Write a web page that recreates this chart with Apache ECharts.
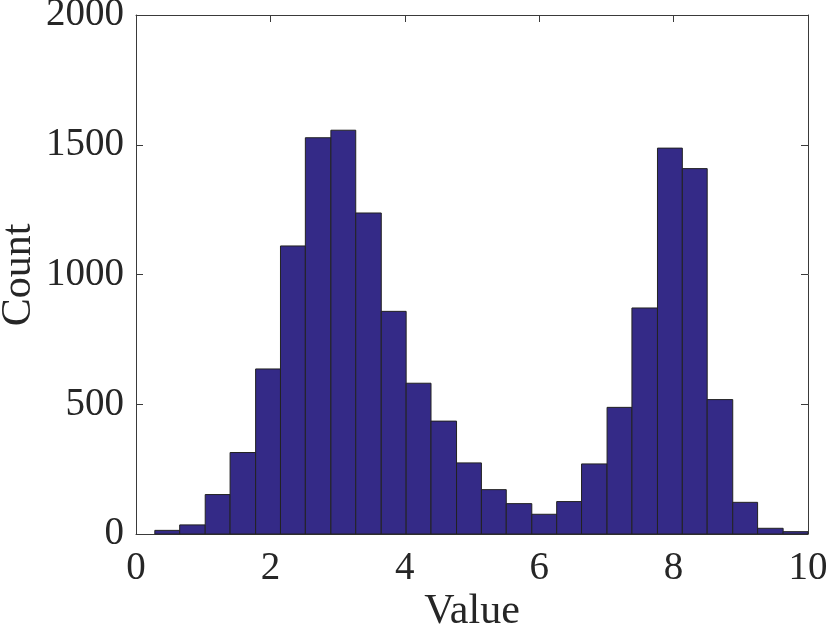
<!DOCTYPE html>
<html>
<head>
<meta charset="utf-8">
<script src="https://cdn.jsdelivr.net/npm/echarts@6/dist/echarts.min.js"></script>
<style>
html,body{margin:0;padding:0;background:#fff;}
#chart{width:830px;height:631px;}
</style>
</head>
<body>
<div id="chart"></div>
<script>
// Histogram bin edges (27 edges -> 26 bins)
const binEdges = [0.28, 0.65, 1.03, 1.40, 1.78, 2.15, 2.52, 2.90, 3.27, 3.65, 4.02, 4.39, 4.77,
  5.14, 5.51, 5.89, 6.26, 6.63, 7.01, 7.38, 7.76, 8.13, 8.50, 8.88, 9.25, 9.63, 10.00];
// Counts per bin
const counts = [14, 35, 152, 314, 636, 1110, 1527, 1556, 1237, 858, 581, 435, 274,
  171, 117, 76, 125, 270, 488, 871, 1487, 1408, 518, 122, 22, 9];
const xTicks = [0, 2, 4, 6, 8, 10];
const yTicks = [0, 500, 1000, 1500, 2000];
const xLabel = 'Value';
const yLabel = 'Count';

const data = counts.map((c, i) => [binEdges[i], binEdges[i + 1], c]);

const font = 'Liberation Serif, Times New Roman, serif';
const axisColor = '#3a3a3a';
const textColor = '#262626';

const chart = echarts.init(document.getElementById('chart'), null, {renderer: 'canvas'});
const common = {
  axisLine: {show: true, onZero: false, lineStyle: {color: axisColor, width: 1}},
  axisTick: {show: true, inside: true, length: 7, lineStyle: {color: axisColor, width: 1}},
  splitLine: {show: false}
};
const fmt = v => String(v);
chart.setOption({
  animation: false,
  backgroundColor: '#fff',
  grid: {left: 136, right: 22, top: 15, bottom: 97, containLabel: false, outerBoundsMode: 'none'},
  graphic: [{
    type: 'text',
    x: 19, y: 275,
    rotation: Math.PI / 2,
    style: {
      text: yLabel, fontFamily: font, fontSize: 42, fill: textColor,
      align: 'center', verticalAlign: 'middle'
    }
  }],
  xAxis: [
    Object.assign({
      type: 'value', min: xTicks[0], max: xTicks[xTicks.length - 1], interval: 2, position: 'bottom',
      name: xLabel, nameLocation: 'middle', nameGap: 57, nameMoveOverlap: false,
      nameTextStyle: {fontFamily: font, fontSize: 42, color: textColor},
      axisLabel: {fontFamily: font, fontSize: 39, color: textColor, margin: 15, formatter: fmt}
    }, common),
    Object.assign({
      type: 'value', min: xTicks[0], max: xTicks[xTicks.length - 1], interval: 2, position: 'top',
      axisLabel: {show: false}
    }, common)
  ],
  yAxis: [
    Object.assign({
      type: 'value', min: yTicks[0], max: yTicks[yTicks.length - 1], interval: 500, position: 'left',
      axisLabel: {fontFamily: font, fontSize: 39, color: textColor, margin: 12, formatter: fmt}
    }, common),
    Object.assign({
      type: 'value', min: yTicks[0], max: yTicks[yTicks.length - 1], interval: 500, position: 'right',
      axisLabel: {show: false}
    }, common)
  ],
  series: [{
    type: 'custom',
    xAxisIndex: 0, yAxisIndex: 0,
    data: data,
    encode: {x: [0, 1], y: 2},
    renderItem: function (params, api) {
      const p0 = api.coord([api.value(0), 0]);
      const p1 = api.coord([api.value(1), api.value(2)]);
      return {
        type: 'rect',
        shape: {x: p0[0], y: p1[1], width: p1[0] - p0[0], height: p0[1] - p1[1]},
        style: {fill: '#342a87', stroke: '#222222', lineWidth: 1}
      };
    }
  }]
});
</script>
</body>
</html>
